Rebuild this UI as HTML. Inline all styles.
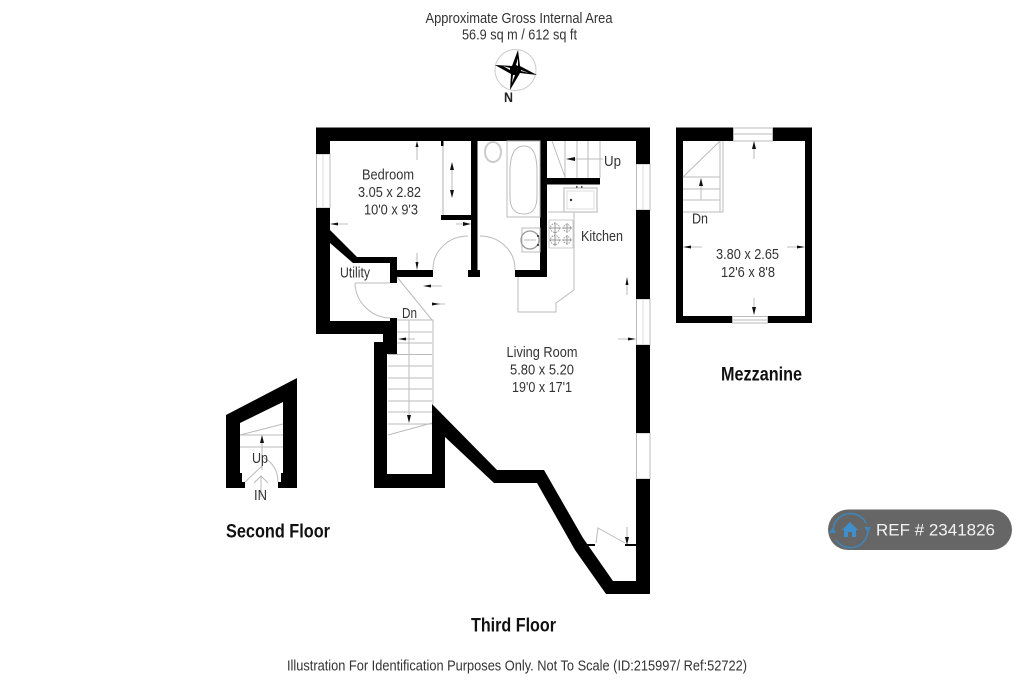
<!DOCTYPE html>
<html><head><meta charset="utf-8"><style>
html,body{margin:0;padding:0;background:#fff;width:1024px;height:680px;overflow:hidden}
svg{display:block;filter:blur(.35px)}
text{font-family:"Liberation Sans",Arial,sans-serif;fill:#333;font-size:14.500px}
.b{font-weight:bold;fill:#111;font-size:19.500px}
.f{fill:#000}
.g{fill:none;stroke:#bbb;stroke-width:1}
.g2{fill:none;stroke:#ccc;stroke-width:1.500}
.a{fill:#111}
.l{stroke:#aaa;stroke-width:.8;fill:none}
</style></head><body>
<svg width="1024" height="680" viewBox="0 0 1024 680" xmlns="http://www.w3.org/2000/svg">
<rect width="1024" height="680" fill="#fff"/>

<!-- header -->
<text x="425.500" y="23" textLength="187" lengthAdjust="spacingAndGlyphs">Approximate Gross Internal Area</text>
<text x="462" y="39.500" textLength="115" lengthAdjust="spacingAndGlyphs">56.9 sq m / 612 sq ft</text>
<circle cx="515.500" cy="70" r="20.500" fill="#fff" stroke="#ccc" stroke-width="1"/>
<polygon class="f" points="518,50 520,66 537,75 520,73 510,90 511,74 495,65 512,66"/>
<polygon fill="#fff" points="518,58 518,66 516,65"/>
<polygon fill="#fff" points="529,73 521,71 521,70"/>
<polygon fill="#fff" points="512,83 513,75 515,75"/>
<polygon fill="#fff" points="503,66 510,68 510,70"/>
<text x="504" y="102" textLength="9" lengthAdjust="spacingAndGlyphs" style="font-weight:bold;font-size:14px;fill:#222">N</text>

<!-- windows main -->
<g class="g">
<rect x="316.500" y="154" width="13.500" height="54"/><line x1="323" y1="154" x2="323" y2="208" stroke="#ddd"/>
<rect x="636.500" y="164" width="13.500" height="46"/><line x1="643" y1="164" x2="643" y2="210" stroke="#ddd"/>
<rect x="636.500" y="299" width="13.500" height="46"/><line x1="643" y1="299" x2="643" y2="345" stroke="#ddd"/>
<rect x="636.500" y="433" width="13.500" height="46"/>
</g>

<!-- walls main -->
<g class="f">
<polygon points="316,127.500 650,127.500 650,164 636,164 636,141 330,141 330,154 316,154"/>
<rect x="636" y="210" width="14" height="89"/>
<rect x="636" y="345" width="14" height="88"/>
<polygon points="636,479 650,479 650,594 606,594 575,550 537,483 494,483 445,437 445,488 374,488 374,342 383,342 383,334 316,334 316,208 330,208 330,321 390,321 390,318 397,318 397,354 387,354 387,474 432,474 432,404 497,470 544,470 583,538 613,581 636,581"/>
<polygon points="330,230 357,257 397,257 397,283 390,283 390,263 353,263 330,243"/>
<rect x="397" y="270" width="36" height="7"/>
<rect x="471" y="141" width="6.500" height="130"/>
<rect x="468" y="270" width="12" height="7"/>
<rect x="540" y="141" width="7" height="136"/>
<rect x="515" y="270" width="32" height="7"/>
<rect x="547" y="178" width="53" height="6.500"/>
<rect x="441" y="215" width="30" height="5"/>
<rect x="441" y="141" width="2.500" height="5"/>
<rect x="587" y="544" width="8" height="2"/>
<rect x="625" y="544" width="11" height="2"/>
</g>

<!-- wardrobe -->
<line class="g2" x1="443" y1="146" x2="443" y2="215"/>

<!-- doors -->
<g class="g">
<path d="M433,270 V268 A35,33 0 0 1 468,236"/>
<path d="M480,236 A35,33 0 0 1 515,270"/>
<path d="M355,283 H390 M355,283 A36,36 0 0 0 390,318"/>
<path d="M596,543 L598,528 L625,543"/>
</g>

<!-- Stairs main -->
<g class="g">
<path d="M397,277 L432,320 M397,320 H433 V404"/>
<path d="M397,332H432 M397,343H432 M388,354.500H432 M388,366H432 M388,378H432 M388,389H432 M388,401H432 M388,412H432 M388,424H432"/>
<path d="M388,435 L432,423"/>
<path d="M409,320 V416"/>
</g>

<!-- bath -->
<g class="g">
<rect x="507" y="141" width="33" height="76"/>
<path d="M510,172 C510,152 516,146 524,146 C532,146 537,152 537,172 V196 C537,208 533,214 524,214 C514,214 510,208 510,196 Z"/>
<ellipse cx="493" cy="152" rx="8" ry="10" stroke="#ccc" stroke-width="2"/>
<rect x="522" y="228" width="18" height="24"/>
<circle cx="530" cy="240" r="9" stroke="#999" stroke-width="1.300"/>
<path d="M524,240 H536"/>
<path d="M518,277 V312 H556 V303 L574,290 V212 H598 M548,212 H564"/>
<rect x="564" y="188" width="33" height="24" stroke="#ccc" stroke-width="1.500"/>
<rect x="567" y="191" width="27" height="18" stroke="#ddd"/>
<rect x="549" y="220" width="24" height="28" rx="1" stroke="#ccc"/>
</g>
<circle cx="571" cy="200" r="1.200" fill="#333"/>
<circle cx="538" cy="236" r="1" fill="#222"/><circle cx="538" cy="245" r="1" fill="#222"/>
<rect x="576" y="186" width="1.500" height="2" fill="#555"/><rect x="581" y="186" width="1.500" height="2" fill="#555"/>
<g stroke="#999" stroke-width="1" fill="none">
<circle cx="555" cy="228" r="4.500" stroke-dasharray="1.500 1"/>
<circle cx="567" cy="228" r="3.500" stroke-dasharray="1.500 1"/>
<circle cx="555" cy="240" r="4.500" stroke-dasharray="1.500 1"/>
<circle cx="567" cy="240" r="3.500" stroke-dasharray="1.500 1"/>
<path d="M555,222V234 M549,228H561 M567,223V233 M562,228H572 M555,234V246 M549,240H561 M567,235V245 M562,240H572"/>
</g>

<!-- Up stairs -->
<g class="g">
<path d="M552,141 L565,177 M565,141V178 M577,141V178 M588,141V178 M600,141V178"/>
<path d="M573,159 H603"/>
</g>

<!-- dimension arrows -->
<g class="l">
<path d="M417,146V160 M417,253V265 M335,224H348 M452,166V194 M456,224H466 M428,286H442 M432,304H445 M403,339H415 M618,339H630 M627,282V295 M627,527V540"/>
</g>
<g class="a">
<polygon points="417,141 415.500,147 418.500,147"/>
<polygon points="417,270 415.500,262 418.500,262"/>
<polygon points="330,224 338,222.500 338,225.500"/>
<polygon points="452,162 450,170 454,170"/>
<polygon points="452,198 450,190 454,190"/>
<polygon points="471,224 463,222 463,226"/>
<polygon points="423,286 431,284.500 431,287.500"/>
<polygon points="440,304 432,302.500 432,305.500"/>
<polygon points="398,339 406,337.500 406,340.500"/>
<polygon points="636,339 628,337.500 628,340.500"/>
<polygon points="627,277 625.500,285 628.500,285"/>
<polygon points="627,545 625,537 629,537"/>
<polygon points="409,423 407,415 411,415"/>
<polygon points="566,159 575,157 575,161"/>
</g>

<!-- Mezzanine -->
<g class="f">
<polygon points="676,127.500 733,127.500 733,141 683,141 683,316 732,316 732,323 676,323"/>
<polygon points="773,127.500 812,127.500 812,323 768,323 768,316 805,316 805,141 773,141"/>
</g>
<g class="g">
<rect x="733.500" y="128" width="39" height="13"/><line x1="733" y1="134" x2="773" y2="134"/>
<rect x="732.500" y="316.500" width="35" height="6.500"/><line x1="732" y1="320" x2="768" y2="320"/>
<path d="M720,141 V212 M723,141 V212 M683,212 H723 M683,177 H720 M683,189 H720 M683,200 H720 M683,177 L720,141 M701,184 V200"/>
</g>
<g class="l"><path d="M754,146V159 M754,298V310 M689,247H702 M787,247H800"/></g>
<g class="a">
<polygon points="754,141 752,149 756,149"/>
<polygon points="754,315 752,307 756,307"/>
<polygon points="683,247 691,245.500 691,248.500"/>
<polygon points="805,247 797,245.500 797,248.500"/>
<polygon points="701,178 699,186 703,186"/>
</g>

<!-- Second floor -->
<polygon class="f" points="226,415 297,378 297,488 278,488 278,482 281,482 281,473 283,473 283,402 240,423 240,473 242,473 242,482 245,482 245,488 226,488"/>
<g class="g">
<path d="M240,435 L283,424 M240,435 H283 M240,447 H283"/>
<path d="M262,438 V470"/>
<path d="M245,482 L262,466 M278,482 C278,470 272,462 264,458"/>
<path d="M261,497 V476 M254,483 L261,476 L268,483"/>
</g>
<polygon class="a" points="262,435 260,443 264,443"/>

<!-- labels -->
<text x="362" y="179.500" textLength="52" lengthAdjust="spacingAndGlyphs">Bedroom</text>
<text x="358" y="197" textLength="63" lengthAdjust="spacingAndGlyphs">3.05 x 2.82</text>
<text x="364" y="214.500" textLength="54" lengthAdjust="spacingAndGlyphs">10'0 x 9'3</text>
<text x="340" y="277.500" textLength="30" lengthAdjust="spacingAndGlyphs">Utility</text>
<text x="402" y="318" textLength="15" lengthAdjust="spacingAndGlyphs">Dn</text>
<text x="604" y="166" textLength="17" lengthAdjust="spacingAndGlyphs">Up</text>
<text x="581" y="241" textLength="42" lengthAdjust="spacingAndGlyphs">Kitchen</text>
<text x="506.500" y="357" textLength="71" lengthAdjust="spacingAndGlyphs">Living Room</text>
<text x="510" y="374.500" textLength="64" lengthAdjust="spacingAndGlyphs">5.80 x 5.20</text>
<text x="512" y="392" textLength="60" lengthAdjust="spacingAndGlyphs">19'0 x 17'1</text>
<text x="692" y="223.500" textLength="16" lengthAdjust="spacingAndGlyphs">Dn</text>
<text x="716" y="259" textLength="63" lengthAdjust="spacingAndGlyphs">3.80 x 2.65</text>
<text x="721" y="277" textLength="54" lengthAdjust="spacingAndGlyphs">12'6 x 8'8</text>
<text x="252" y="463" textLength="16" lengthAdjust="spacingAndGlyphs">Up</text>
<text x="254" y="500" textLength="13" lengthAdjust="spacingAndGlyphs">IN</text>

<text class="b" x="721" y="380.500" textLength="81" lengthAdjust="spacingAndGlyphs">Mezzanine</text>
<text class="b" x="226" y="537.500" textLength="104" lengthAdjust="spacingAndGlyphs">Second Floor</text>
<text class="b" x="471" y="631.500" textLength="85" lengthAdjust="spacingAndGlyphs">Third Floor</text>
<text x="287" y="670.500" textLength="460" lengthAdjust="spacingAndGlyphs" style="font-size:15px">Illustration For Identification Purposes Only. Not To Scale (ID:215997/ Ref:52722)</text>

<!-- badge -->
<rect x="828" y="509.500" width="184" height="40.500" rx="20.250" fill="#666"/>
<path d="M833,530 A17.500,17.500 0 0 1 866,523" fill="none" stroke="#3f86bd" stroke-width="1.500"/>
<path d="M868,530 A17.500,17.500 0 0 1 836,540" fill="none" stroke="#3f86bd" stroke-width="1.500"/>
<polygon points="833,527 829,533 836,533" fill="#3f86bd"/>
<polygon points="868,533 864.500,527 871,527" fill="#3f86bd"/>
<polygon points="850,522 858,530 856,530 856,537 852,537 852,532 848,532 848,537 844,537 844,530 842,530" fill="#3f8fcc"/>
<text x="876" y="535.500" textLength="119" lengthAdjust="spacingAndGlyphs" style="fill:#f2f2f2;font-size:17px">REF # 2341826</text>
</svg>
</body></html>
